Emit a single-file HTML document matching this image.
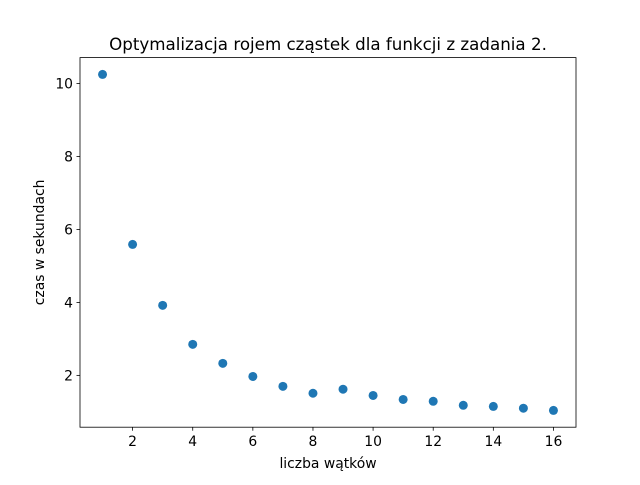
<!DOCTYPE html>
<html><head><meta charset="utf-8"><style>
body{margin:0;background:#fff;}
svg text{font-family:"DejaVu Sans","Liberation Sans",sans-serif;fill:#000;}
</style></head><body>
<svg id="chart" width="640" height="480">
<rect width="640" height="480" fill="#fff"/>
<text x="328" y="50" font-size="16.7" text-anchor="middle">Optymalizacja rojem cząstek dla funkcji z zadania 2.</text>
<g id="ticks"></g>
<g id="points"></g>
<rect x="80" y="57.6" width="496" height="369.6" fill="none" stroke="#000" stroke-width="0.8"/>
<text x="328" y="468" font-size="13.9" text-anchor="middle">liczba wątków</text>
<text transform="translate(44,242.4) rotate(-90)" font-size="13.9" text-anchor="middle">czas w sekundach</text>
</svg>
<script>
const threads=[1,2,3,4,5,6,7,8,9,10,11,12,13,14,15,16];
const times=[10.25,5.59,3.92,2.85,2.33,1.97,1.70,1.51,1.62,1.45,1.34,1.29,1.18,1.15,1.10,1.04];
const xTicks=[2,4,6,8,10,12,14,16];
const yTicks=[2,4,6,8,10];
const L=80,R=576,T=57.6,B=427.2;
const xmin=0.25,xmax=16.75;
const ymin=Math.min(...times),ymax=Math.max(...times),pad=(ymax-ymin)*0.05;
const y0=ymin-pad,y1=ymax+pad;
const sx=v=>L+(v-xmin)/(xmax-xmin)*(R-L);
const sy=v=>B-(v-y0)/(y1-y0)*(B-T);
const NS="http://www.w3.org/2000/svg";
const tg=document.getElementById('ticks'),pg=document.getElementById('points');
function mk(tag,attrs,parent){const e=document.createElementNS(NS,tag);for(const k in attrs)e.setAttribute(k,attrs[k]);parent.appendChild(e);return e;}
xTicks.forEach(v=>{const x=sx(v);
const l=mk('line',{x1:x,x2:x,y1:B,y2:B+3.5,stroke:'#000','stroke-width':0.8},tg);


const t=mk('text',{x:x,y:B+19,'font-size':13.9,'text-anchor':'middle'},tg);t.textContent=v;

});
yTicks.forEach(v=>{const y=sy(v);
const l=mk('line',{x1:L-3.5,x2:L,y1:y,y2:y,stroke:'#000','stroke-width':0.8},tg);


const t=mk('text',{x:L-7,y:y+5,'font-size':13.9,'text-anchor':'end'},tg);t.textContent=v;

});
threads.forEach((v,i)=>{const c=mk('circle',{cx:sx(v),cy:sy(times[i]),r:4.5,fill:'#1f77b4'},pg);

});
</script>
</body></html>
